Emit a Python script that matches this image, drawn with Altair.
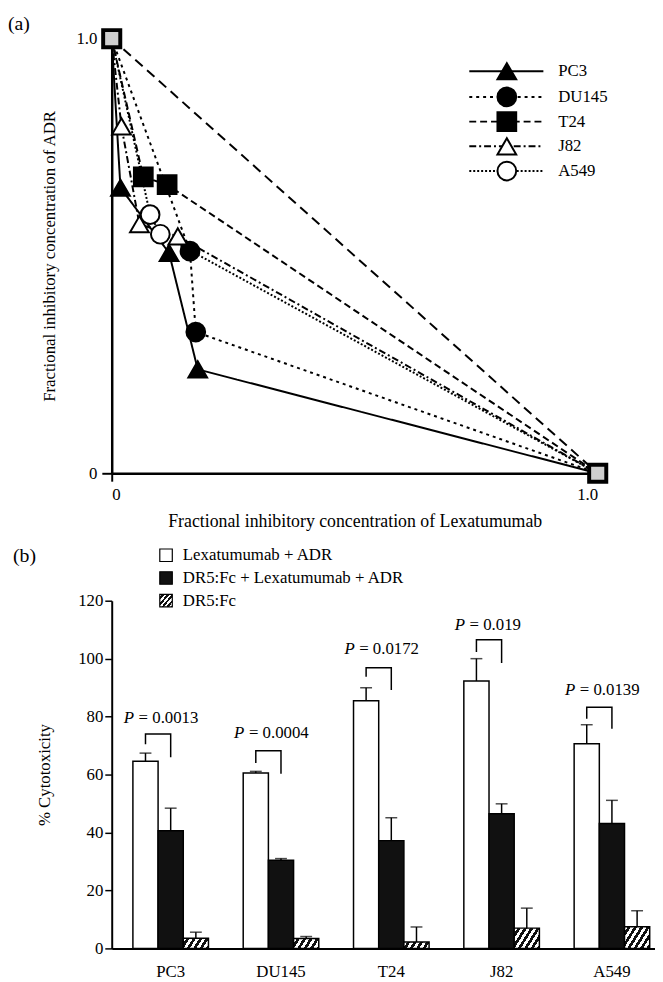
import math
import altair as alt
import pandas as pd

FONT = "Liberation Serif"

# ---------------- Panel (a) data: isobologram ----------------
series = ["PC3", "DU145", "T24", "J82", "A549"]
pc3_x = [0.0, 0.018, 0.118, 0.177, 1.0]
pc3_y = [1.0, 0.657, 0.507, 0.239, 0.0]
du145_x = [0.0, 0.161, 0.173, 1.0]
du145_y = [1.0, 0.511, 0.325, 0.0]
t24_x = [0.0, 0.065, 0.114, 1.0]
t24_y = [1.0, 0.682, 0.664, 0.0]
j82_x = [0.0, 0.020, 0.057, 0.136, 1.0]
j82_y = [1.0, 0.798, 0.573, 0.545, 0.0]
a549_x = [0.0, 0.079, 0.100, 1.0]
a549_y = [1.0, 0.595, 0.550, 0.0]
additive_x = [0.0, 1.0]
additive_y = [1.0, 0.0]
endpoint_x = [0.0, 1.0]
endpoint_y = [1.0, 0.0]

# ---------------- Panel (b) data: cytotoxicity ----------------
cells = ["PC3", "DU145", "T24", "J82", "A549"]
groups = ["Lexatumumab + ADR", "DR5:Fc + Lexatumumab + ADR", "DR5:Fc"]
lex_adr = [64.6, 60.5, 85.5, 92.3, 70.6]
lex_adr_err = [2.8, 0.6, 4.5, 7.7, 6.6]
dr5_lex_adr = [40.6, 30.4, 37.2, 46.5, 43.1]
dr5_lex_adr_err = [7.8, 0.6, 7.9, 3.4, 8.0]
dr5 = [3.5, 3.4, 2.2, 7.0, 7.5]
dr5_err = [2.1, 0.7, 5.2, 6.9, 5.5]
p_values = ["= 0.0013", "= 0.0004", "= 0.0172", "= 0.019", "= 0.0139"]
bracket_top = [74.0, 68.2, 96.9, 106.5, 83.2]
bracket_left_end = [70.5, 64.0, 93.8, 102.3, 79.3]
bracket_right_end = [66.0, 60.3, 89.2, 98.5, 75.8]
p_text_y = [79.5, 74.4, 103.4, 111.6, 89.2]
y_ticks_b = list(range(0, 121, 10))

# ---------------- styles ----------------
dashes = [[1, 0], [3, 4], [7, 4], [7, 3, 2, 3], [2, 2]]
shapes = ["triangle-up", "circle", "square", "triangle-up", "circle"]
fills = ["black", "black", "black", "white", "white"]

WA, HA = 492, 440
WB, HB = 550, 352
P_IN, P_OUT, ALIGN = 0.315, 0.12, 0.8


def hatch(w, h, angle=58.0, period=6.5):
    h = max(h, 1.0)
    k = h / (w * math.tan(math.radians(angle)))
    s = (1 + k) / (1 + k * k)
    p = period / (w * (1 + k))
    stops = []
    t = 0.0
    while t < 1.0:
        b = min(t + p / 2, 1.0)
        c = min(t + p, 1.0)
        stops += [
            {"offset": round(t, 5), "color": "white"},
            {"offset": round(b, 5), "color": "white"},
            {"offset": round(b, 5), "color": "#111"},
            {"offset": round(c, 5), "color": "#111"},
        ]
        t += p
    return {"gradient": "linear", "x1": 0, "y1": 0, "x2": s, "y2": s * k, "stops": stops}


# ---------------- Panel (a) ----------------
xs = [pc3_x, du145_x, t24_x, j82_x, a549_x]
ys = [pc3_y, du145_y, t24_y, j82_y, a549_y]
line_rows, point_rows = [], []
for name, sx, sy in zip(series, xs, ys):
    for i, (vx, vy) in enumerate(zip(sx, sy)):
        line_rows.append({"series": name, "x": vx, "y": vy, "ord": i})
        if 0 < i < len(sx) - 1:
            point_rows.append({"series": name, "x": vx, "y": vy})
lines_df = pd.DataFrame(line_rows)
points_df = pd.DataFrame(point_rows)
add_df = pd.DataFrame({"x": additive_x, "y": additive_y})
end_df = pd.DataFrame({"x": endpoint_x, "y": endpoint_y})

axis_common = dict(
    grid=False, domainColor="black", domainWidth=2.5, tickColor="black", tickWidth=2,
    labelFont=FONT, titleFont=FONT, labelFontSize=17,
    titleFontWeight="normal", labelColor="black", titleColor="black",
)
xa = alt.X("x:Q", scale=alt.Scale(domain=[0, 1], nice=False),
           axis=alt.Axis(values=[0, 1], labelExpr="datum.value == 0 ? '0' : '1.0'",
                         title="Fractional inhibitory concentration of Lexatumumab",
                         titleFontSize=18,
                         tickSize=8, labelPadding=6, titlePadding=10, **axis_common))
ya = alt.Y("y:Q", scale=alt.Scale(domain=[0, 1], nice=False),
           axis=alt.Axis(values=[0, 1], labelExpr="datum.value == 0 ? '0' : '1.0'",
                         title="Fractional inhibitory concentration of ADR",
                         titleFontSize=17,
                         tickSize=10, labelPadding=5, titlePadding=18, **axis_common))

dash_scale = alt.Scale(domain=series, range=dashes)
shape_scale = alt.Scale(domain=series, range=shapes)
fill_scale = alt.Scale(domain=series, range=fills)

lines_a = alt.Chart(lines_df).mark_line(color="black", strokeWidth=2).encode(
    x=xa, y=ya, detail="series:N",
    strokeDash=alt.StrokeDash("series:N", scale=dash_scale, legend=None),
    order="ord:Q",
)
add_line = alt.Chart(add_df).mark_line(color="black", strokeWidth=2, strokeDash=[10, 6]).encode(
    x="x:Q", y="y:Q")
pts_a = alt.Chart(points_df).mark_point(size=360, stroke="black", strokeWidth=2, opacity=1, filled=False).encode(
    x="x:Q", y="y:Q",
    shape=alt.Shape("series:N", scale=shape_scale, legend=None),
    fill=alt.Fill("series:N", scale=fill_scale, legend=None),
)
ends_a = alt.Chart(end_df).mark_square(size=300, fill="#cfcfcf", stroke="black", strokeWidth=4, opacity=1).encode(
    x="x:Q", y="y:Q")

leg_a_df = pd.DataFrame({"series": series, "ly": [33, 59, 84, 109, 134]})
leg_lines = alt.Chart(leg_a_df).mark_rule(color="black", strokeWidth=2).encode(
    x=alt.value(362), x2=alt.value(437), y=alt.Y("ly:Q", scale=None),
    strokeDash=alt.StrokeDash("series:N", scale=dash_scale, legend=None),
)
leg_pts = alt.Chart(leg_a_df).mark_point(size=360, stroke="black", strokeWidth=2, opacity=1, filled=False).encode(
    x=alt.value(400), y=alt.Y("ly:Q", scale=None),
    shape=alt.Shape("series:N", scale=shape_scale, legend=None),
    fill=alt.Fill("series:N", scale=fill_scale, legend=None),
)
leg_txt = alt.Chart(leg_a_df).mark_text(align="left", baseline="middle", font=FONT, fontSize=17, color="black").encode(
    x=alt.value(452), y=alt.Y("ly:Q", scale=None), text="series:N")
tag_a = alt.Chart(pd.DataFrame({"t": ["(a)"]})).mark_text(
    align="left", baseline="middle", font=FONT, fontSize=20, color="black").encode(
    x=alt.value(-105), y=alt.value(-15), text="t:N")

chart_a = alt.layer(lines_a, add_line, pts_a, ends_a, leg_lines, leg_pts, leg_txt, tag_a).properties(
    width=WA, height=HA)

# ---------------- Panel (b) ----------------
step = WB / (len(cells) - P_IN + 2 * P_OUT)
sub_w = step * (1 - P_IN) / 3
vals = [lex_adr, dr5_lex_adr, dr5]
errs = [lex_adr_err, dr5_lex_adr_err, dr5_err]
bar_rows = []
for gi, g in enumerate(groups):
    for ci, c in enumerate(cells):
        v = vals[gi][ci]
        e = errs[gi][ci]
        if gi == 0:
            f = "white"
        elif gi == 1:
            f = "#111"
        else:
            f = hatch(sub_w, v * HB / 120.0)
        bar_rows.append({"cell": c, "group": g, "value": v, "top": v + e, "fill": f})

xb = alt.X("cell:N", sort=cells,
           scale=alt.Scale(paddingInner=P_IN, paddingOuter=P_OUT, align=ALIGN),
           axis=alt.Axis(title=None, labelAngle=0, ticks=False, labelPadding=15,
                         domainColor="black", domainWidth=2, labelFont=FONT, labelFontSize=17,
                         labelColor="black", grid=False))
xo = alt.XOffset("group:N", sort=groups, scale=alt.Scale(paddingInner=0, paddingOuter=0))
yb = alt.Y("value:Q", scale=alt.Scale(domain=[0, 120], nice=False),
           axis=alt.Axis(values=y_ticks_b, labelExpr="datum.value % 20 === 0 ? datum.label : ''",
                         title="% Cytotoxicity", grid=False, domainColor="black", domainWidth=2,
                         tickColor="black", tickWidth=1.5,
                         tickSize={"condition": {"test": "datum.value % 20 !== 0", "value": 4}, "value": 7},
                         labelPadding=2, titlePadding=24, labelFont=FONT, titleFont=FONT,
                         labelFontSize=17, titleFontSize=17, titleFontWeight="normal",
                         labelColor="black", titleColor="black"))

bar_data = alt.Data(values=bar_rows)
bars = alt.Chart(bar_data).mark_bar(stroke="black", strokeWidth=1.5).encode(
    x=xb, xOffset=xo, y=yb, fill=alt.Fill("fill:N", scale=None))
err_rule = alt.Chart(bar_data).mark_rule(color="black", strokeWidth=1.5).encode(
    x=xb, xOffset=xo, y="value:Q", y2="top:Q")
err_cap = alt.Chart(bar_data).mark_tick(color="black", orient="horizontal", size=12, thickness=1.5).encode(
    x=xb, xOffset=xo, y="top:Q")

br_rows = []
for ci, c in enumerate(cells):
    br_rows += [
        {"cell": c, "group": groups[0], "value": bracket_left_end[ci], "ord": 0},
        {"cell": c, "group": groups[0], "value": bracket_top[ci], "ord": 1},
        {"cell": c, "group": groups[1], "value": bracket_top[ci], "ord": 2},
        {"cell": c, "group": groups[1], "value": bracket_right_end[ci], "ord": 3},
    ]
brackets = alt.Chart(pd.DataFrame(br_rows)).mark_line(color="black", strokeWidth=1.5).encode(
    x=xb, xOffset=xo, y="value:Q", detail="cell:N", order="ord:Q")

pt_df = pd.DataFrame({"cell": cells, "group": [groups[0]] * 5, "value": p_text_y, "label": p_values})
p_italic = alt.Chart(pt_df).mark_text(align="left", baseline="middle", font=FONT, fontSize=17,
                                      fontStyle="italic", color="black", dx=-22).encode(
    x=xb, xOffset=xo, y="value:Q", text=alt.value("P"))
p_rest = alt.Chart(pt_df).mark_text(align="left", baseline="middle", font=FONT, fontSize=17,
                                    color="black", dx=-7).encode(
    x=xb, xOffset=xo, y="value:Q", text="label:N")

leg_b_rows = [
    {"label": groups[0], "ly": -46, "fill": "white"},
    {"label": groups[1], "ly": -23, "fill": "#111"},
    {"label": groups[2], "ly": 0, "fill": hatch(13, 13, angle=50, period=5)},
]
leg_b_data = alt.Data(values=leg_b_rows)
leg_b_sq = alt.Chart(leg_b_data).mark_square(size=160, stroke="black", strokeWidth=1.2, opacity=1).encode(
    x=alt.value(55), y=alt.Y("ly:Q", scale=None), fill=alt.Fill("fill:N", scale=None))
leg_b_txt = alt.Chart(leg_b_data).mark_text(align="left", baseline="middle", font=FONT, fontSize=17,
                                            color="black").encode(
    x=alt.value(72), y=alt.Y("ly:Q", scale=None), text="label:N")
tag_b = alt.Chart(pd.DataFrame({"t": ["(b)"]})).mark_text(
    align="left", baseline="middle", font=FONT, fontSize=20, color="black").encode(
    x=alt.value(-100), y=alt.value(-45), text="t:N")

chart_b = alt.layer(bars, err_rule, err_cap, brackets, p_italic, p_rest, leg_b_sq, leg_b_txt, tag_b).properties(
    width=WB, height=HB)

chart = alt.vconcat(chart_a, chart_b, spacing=16).properties(
    padding={"left": 0, "top": 0, "right": 0, "bottom": 0}
).configure_view(stroke=None)

chart.save("out.html", embed_options={"renderer": "svg", "actions": False})
